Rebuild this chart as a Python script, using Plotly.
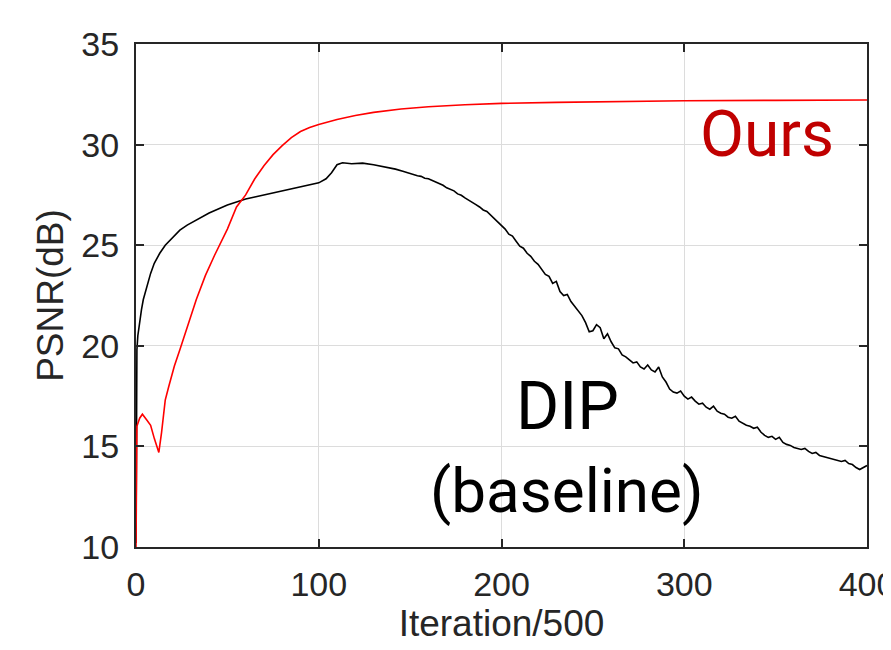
import plotly.graph_objects as go

# DIP (baseline) PSNR curve
dip_x = [0, 0.5, 1, 2, 3, 4, 6, 8, 10, 13, 16, 20, 24, 28, 32, 36, 40, 45, 50, 55, 60, 65, 70, 75, 80, 85, 90, 95, 100,
         104, 107, 110, 113, 118, 124, 130, 136, 142, 146,
         150, 152, 154, 156, 158, 160, 162, 164, 166, 168, 170, 172, 174, 176, 178, 180, 182, 184, 186, 188, 190, 192,
         194, 196, 198, 200, 202, 204, 206, 208, 210, 212, 214, 216, 218, 220, 222, 224, 226, 228, 230, 232, 234, 236,
         238, 240, 242, 244, 246, 248, 250, 252, 254, 256, 258, 260, 262, 264, 266, 268, 270, 272, 274, 276, 278, 280,
         282, 284, 286, 288, 290, 292, 294, 296, 298, 300, 302, 304, 306, 308, 310, 312, 314, 316, 318, 320, 322, 324,
         326, 328, 330, 332, 334, 336, 338, 340, 342, 344, 346, 348, 350, 352, 354, 356, 358, 360, 362, 364, 366, 368,
         370, 372, 374, 376, 378, 380, 382, 384, 386, 388, 390, 392, 394, 396, 398, 400]
dip_y = [10.2, 19.8, 20.5, 21.2, 21.8, 22.3, 23.0, 23.6, 24.1, 24.6, 25.0, 25.4, 25.75, 26.0, 26.2, 26.4, 26.6, 26.8,
         27.0, 27.15, 27.3, 27.4, 27.5, 27.6, 27.7, 27.8, 27.9, 28.0, 28.1,
         28.3, 28.6, 29.0, 29.1, 29.05, 29.08, 29.0, 28.9, 28.78, 28.68,
         28.55, 28.5, 28.45, 28.42, 28.33, 28.3, 28.22, 28.15, 28.05, 27.98, 27.85, 27.78, 27.7, 27.55, 27.48, 27.35,
         27.25, 27.15, 27.02, 26.9, 26.75, 26.68,
         26.5, 26.3, 26.15, 25.95, 25.8, 25.55, 25.45, 25.2, 24.95, 24.85, 24.6, 24.45, 24.2, 24.05, 23.8, 23.55, 23.45,
         23.1, 23.2, 22.7, 22.5, 22.55,
         22.2, 21.95, 21.7, 21.5, 21.15, 20.7, 20.75, 21.05, 20.9, 20.35, 20.6, 20.2, 19.9, 19.85, 19.55, 19.45, 19.3,
         19.15, 19.2, 18.95, 18.85, 19.05,
         18.8, 18.7, 18.95, 18.45, 18.2, 17.85, 17.7, 17.65, 17.75, 17.5, 17.35, 17.45, 17.25, 17.1, 17.15, 16.95, 16.85,
         17.0, 16.75, 16.65, 16.6, 16.45,
         16.4, 16.5, 16.25, 16.15, 16.05, 16.0, 15.9, 15.95, 15.7, 15.55, 15.45, 15.5, 15.35, 15.45, 15.2, 15.1, 15.05,
         14.95, 14.9, 14.85, 14.9, 14.75,
         14.65, 14.7, 14.55, 14.5, 14.45, 14.4, 14.35, 14.3, 14.25, 14.3, 14.15, 14.1, 13.95, 13.85, 13.95, 14.05]

# Ours PSNR curve
ours_x = [0, 0.5, 2, 3.5, 6, 8, 10, 12.5, 14, 16, 18, 21, 24, 28, 33, 38, 43, 50, 55, 60, 65, 70, 75, 80, 85, 90, 95,
          100, 110, 120, 130, 145, 160, 180, 200, 230, 260, 300, 350, 400]
ours_y = [10.0, 16.0, 16.4, 16.6, 16.3, 16.05, 15.4, 14.7, 15.7, 17.3, 18.0, 19.0, 19.8, 20.9, 22.3, 23.5, 24.5, 25.8,
          26.9, 27.5, 28.3, 28.95, 29.5, 29.95, 30.35, 30.65, 30.85,
          31.0, 31.25, 31.45, 31.6, 31.77, 31.88, 31.98, 32.05, 32.1, 32.15, 32.18, 32.2, 32.22]

x_ticks = [0, 100, 200, 300, 400]
y_ticks = [10, 15, 20, 25, 30, 35]

axis_color = "#262626"
lab_family = "Liberation Sans, Arial, sans-serif"
tick_font = dict(family=lab_family, size=34, color=axis_color)
title_font = dict(family=lab_family, size=37, color=axis_color)

fig = go.Figure()
fig.add_trace(go.Scatter(x=dip_x, y=dip_y, mode="lines", line=dict(color="black", width=1.6), showlegend=False))
fig.add_trace(go.Scatter(x=ours_x, y=ours_y, mode="lines", line=dict(color="#ff0000", width=1.6), showlegend=False))

ann_font = "Roboto, sans-serif"
fig.add_annotation(x=345.5, y=30.5, text="Ours", showarrow=False, xanchor="center", yanchor="middle",
                   font=dict(family=ann_font, size=64, color="#c00000"))
fig.add_annotation(x=236, y=17.0, text="DIP", showarrow=False, xanchor="center", yanchor="middle",
                   font=dict(family=ann_font, size=66, color="black"))
fig.add_annotation(x=236, y=12.8, text="(baseline)", showarrow=False, xanchor="center", yanchor="middle",
                   font=dict(family=ann_font, size=62, color="black"))

common = dict(showgrid=True, gridcolor="#dcdcdc", gridwidth=1, zeroline=False,
              showline=True, linecolor=axis_color, linewidth=2, mirror="ticks",
              ticks="inside", ticklen=8, tickwidth=1.5, tickcolor=axis_color,
              tickfont=tick_font, automargin=False, ticklabeloverflow="allow")

# page body has an 8px default margin, so the figure is sized to fit the 891x650 window
fig.update_layout(
    width=883, height=642,
    margin=dict(l=128, r=24, t=36, b=103),
    paper_bgcolor="white", plot_bgcolor="white",
    xaxis=dict(range=[0, 400], tickvals=x_ticks, ticktext=[str(v) for v in x_ticks], ticklabelstandoff=6,
               title=dict(text="Iteration/500", font=title_font, standoff=4), **common),
    yaxis=dict(range=[10, 35], tickvals=y_ticks, ticktext=[str(v) for v in y_ticks], ticklabelstandoff=8,
               title=dict(text="PSNR(dB)", font=title_font, standoff=6), **common),
)

fig.write_html("out.html")
